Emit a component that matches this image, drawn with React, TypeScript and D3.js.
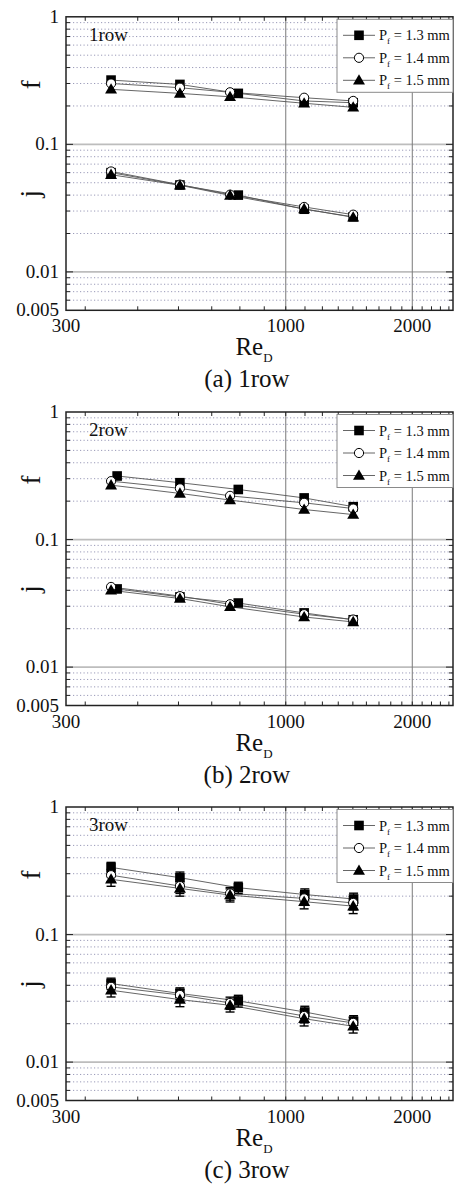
import React from "react";
import * as d3 from "d3";

// Re_D of each measured point (square series sits at a slightly higher Re at point 3)
const reBase = [384, 560, 737, 1106, 1447];
const reSq1 = [384, 560, 771, 1106, 1447];
const reSq2 = [397, 560, 771, 1106, 1447];
const reSq3 = [384, 560, 771, 1110, 1450];

// (a) 1row
const f1_13 = [0.319, 0.295, 0.251, 0.219, 0.212];
const f1_14 = [0.300, 0.278, 0.256, 0.232, 0.219];
const f1_15 = [0.270, 0.251, 0.236, 0.210, 0.195];
const j1_13 = [0.060, 0.048, 0.040, 0.031, 0.027];
const j1_14 = [0.0613, 0.0483, 0.0403, 0.0323, 0.0281];
const j1_15 = [0.0578, 0.0478, 0.0398, 0.0312, 0.0268];

// (b) 2row
const f2_13 = [0.315, 0.279, 0.247, 0.212, 0.181];
const f2_14 = [0.287, 0.252, 0.220, 0.194, 0.175];
const f2_15 = [0.267, 0.230, 0.204, 0.172, 0.157];
const j2_13 = [0.041, 0.0355, 0.0318, 0.0266, 0.0235];
const j2_14 = [0.0425, 0.036, 0.0311, 0.026, 0.0236];
const j2_15 = [0.040, 0.0345, 0.0297, 0.0247, 0.0226];

// (c) 3row, with error bars
const f3_13 = [0.336, 0.279, 0.233, 0.206, 0.190];
const f3_14 = [0.292, 0.240, 0.210, 0.192, 0.177];
const f3_15 = [0.271, 0.230, 0.204, 0.181, 0.167];
const j3_13 = [0.0413, 0.0345, 0.0302, 0.0247, 0.0209];
const j3_14 = [0.0389, 0.0336, 0.0291, 0.023, 0.0203];
const j3_15 = [0.0366, 0.0309, 0.0279, 0.0219, 0.0191];
const errF3 = [0.032, 0.03, 0.024, 0.022, 0.021];
const errJ3 = [0.0042, 0.0037, 0.0032, 0.0027, 0.0022];

const legendLabels = ["1.3 mm", "1.4 mm", "1.5 mm"];
const markerTypes = ["square", "circle", "triangle"];
const xTickLabels = [300, 1000, 2000];
const yTickLabels = [1, 0.1, 0.01, 0.005];
const xMinorTicks = d3.range(3, 23).map((k) => (k * 1000) / 9);
const yMinor = [0.006, 0.007, 0.008, 0.009, 0.02, 0.03, 0.04, 0.05, 0.06, 0.07, 0.08, 0.09,
  0.2, 0.3, 0.4, 0.5, 0.6, 0.7, 0.8, 0.9];

const W = 454;
const H = 1187;
const left = 66;
const right = 453;
const plotH = 293.5;
const serif = "'Liberation Serif', 'Times New Roman', serif";

const x = d3.scaleLog().domain([300, 2500]).range([left, right]);

function Marker({ type, cx, cy }) {
  if (type === "square") {
    return <rect x={cx - 4.8} y={cy - 4.8} width={9.6} height={9.6} fill="#000" />;
  }
  if (type === "circle") {
    return <circle cx={cx} cy={cy} r={4.6} fill="#fff" stroke="#000" strokeWidth={1} />;
  }
  const p = d3.symbol(d3.symbolTriangle, 62)();
  return <path d={p} transform={`translate(${cx},${cy + 0.8})`} fill="#000" />;
}

function Panel({ top, tag, caption, series, errors }) {
  const y = d3.scaleLog().domain([0.005, 1]).range([top + plotH, top]);
  const bottom = top + plotH;
  const line = d3.line().x((d) => x(d[0])).y((d) => y(d[1]));

  return (
    <g>
      {/* minor dotted grid */}
      {yMinor.map((v) => (
        <line key={"g" + v} x1={left} x2={right} y1={y(v)} y2={y(v)}
          stroke="#9a9ab8" strokeWidth={1} strokeDasharray="1.2 2.3" />
      ))}
      {[0.1, 0.01].map((v) => (
        <line key={"G" + v} x1={left} x2={right} y1={y(v)} y2={y(v)} stroke="#bdbdbd" strokeWidth={1.8} />
      ))}
      {[1000, 2000].map((v) => (
        <line key={"V" + v} x1={x(v)} x2={x(v)} y1={top} y2={bottom} stroke="#7a7a7a" strokeWidth={1} />
      ))}

      {/* ticks */}
      {xMinorTicks.map((v) => (
        <g key={"xt" + v}>
          <line x1={x(v)} x2={x(v)} y1={bottom} y2={bottom - 4} stroke="#222" />
          <line x1={x(v)} x2={x(v)} y1={top} y2={top + 4} stroke="#222" />
        </g>
      ))}
      {yMinor.map((v) => (
        <g key={"yt" + v}>
          <line x1={left} x2={left + 4} y1={y(v)} y2={y(v)} stroke="#222" />
          <line x1={right} x2={right - 4} y1={y(v)} y2={y(v)} stroke="#222" />
        </g>
      ))}
      {[0.1, 0.01].map((v) => (
        <g key={"yT" + v}>
          <line x1={left} x2={left + 7} y1={y(v)} y2={y(v)} stroke="#222" />
          <line x1={right} x2={right - 7} y1={y(v)} y2={y(v)} stroke="#222" />
        </g>
      ))}

      {/* series lines */}
      {series.map((s, i) => (
        <path key={"l" + i} d={line(s.re.map((r, k) => [r, s.v[k]]))} fill="none" stroke="#555" strokeWidth={0.9} />
      ))}

      {/* error bars */}
      {errors &&
        series.map((s, i) =>
          s.v.map((v, k) => {
            const e = s.err[k];
            const cx = x(s.re[k]);
            return (
              <g key={"e" + i + "-" + k} stroke="#000" strokeWidth={1.4}>
                <line x1={cx} x2={cx} y1={y(v + e)} y2={y(v - e)} />
                <line x1={cx - 4.5} x2={cx + 4.5} y1={y(v + e)} y2={y(v + e)} />
                <line x1={cx - 4.5} x2={cx + 4.5} y1={y(v - e)} y2={y(v - e)} />
              </g>
            );
          })
        )}

      {/* markers */}
      {series.map((s, i) =>
        s.v.map((v, k) => <Marker key={"m" + i + "-" + k} type={s.type} cx={x(s.re[k])} cy={y(v)} />)
      )}

      {/* frame */}
      <rect x={left} y={top} width={right - left} height={plotH} fill="none" stroke="#222" strokeWidth={1.5} />

      {/* row tag */}
      <text x={left + 23} y={top + 24} fontFamily={serif} fontSize={19} fill="#111">{tag}</text>

      {/* legend */}
      <g>
        <rect x={337} y={top + 2.5} width={right - 337} height={73} fill="#fff" stroke="#8a8a8a" strokeWidth={1} />
        {legendLabels.map((lab, i) => {
          const ly = top + 18.5 + i * 22.5;
          return (
            <g key={"lg" + i}>
              <line x1={343} x2={375} y1={ly} y2={ly} stroke="#555" strokeWidth={0.9} />
              <Marker type={markerTypes[i]} cx={359} cy={ly} />
              <text x={379} y={ly + 5} fontFamily={serif} fontSize={14.5} fill="#111">
                P<tspan fontSize={9} dy={4}>f</tspan>
                <tspan dy={-4}> = {lab}</tspan>
              </text>
            </g>
          );
        })}
      </g>

      {/* axis tick labels */}
      {yTickLabels.map((v) => (
        <text key={"yl" + v} x={59} y={y(v) + 6} textAnchor="end" fontFamily={serif} fontSize={19} fill="#111">
          {String(v)}
        </text>
      ))}
      {xTickLabels.map((v) => (
        <text key={"xl" + v} x={x(v)} y={bottom + 22} textAnchor="middle" fontFamily={serif} fontSize={19} fill="#111">
          {v}
        </text>
      ))}

      {/* axis titles */}
      <text transform={`translate(40,${top + 68}) rotate(-90)`} textAnchor="middle" fontFamily={serif} fontSize={27} fill="#111">f</text>
      <text transform={`translate(39,${top + 177}) rotate(-90)`} textAnchor="middle" fontFamily={serif} fontSize={27} fill="#111">j</text>
      <text x={254} y={bottom + 45} textAnchor="middle" fontFamily={serif} fontSize={25} fill="#111">
        Re<tspan fontSize={13} dy={7}>D</tspan>
      </text>

      {/* caption */}
      <text x={247} y={bottom + 77} textAnchor="middle" fontFamily={serif} fontSize={25} fill="#111">{caption}</text>
    </g>
  );
}

function mk(re13, v13, v14, v15, e13?, e14?, e15?) {
  return [
    { type: "square", re: re13, v: v13, err: e13 },
    { type: "circle", re: reBase, v: v14, err: e14 },
    { type: "triangle", re: reBase, v: v15, err: e15 },
  ];
}

export default function App() {
  const p1 = [...mk(reSq1, f1_13, f1_14, f1_15), ...mk(reSq1, j1_13, j1_14, j1_15)];
  const p2 = [...mk(reSq2, f2_13, f2_14, f2_15), ...mk(reSq2, j2_13, j2_14, j2_15)];
  const p3 = [
    ...mk(reSq3, f3_13, f3_14, f3_15, errF3, errF3, errF3),
    ...mk(reSq3, j3_13, j3_14, j3_15, errJ3, errJ3, errJ3),
  ];
  return (
    <svg width={W} height={H} style={{ position: "absolute", left: 0, top: 0, background: "#fff" }}>
      <rect width={W} height={H} fill="#fff" />
      <Panel top={16.8} tag="1row" caption="(a) 1row" series={p1} errors={false} />
      <Panel top={412} tag="2row" caption="(b) 2row" series={p2} errors={false} />
      <Panel top={807} tag="3row" caption="(c) 3row" series={p3} errors={true} />
    </svg>
  );
}
